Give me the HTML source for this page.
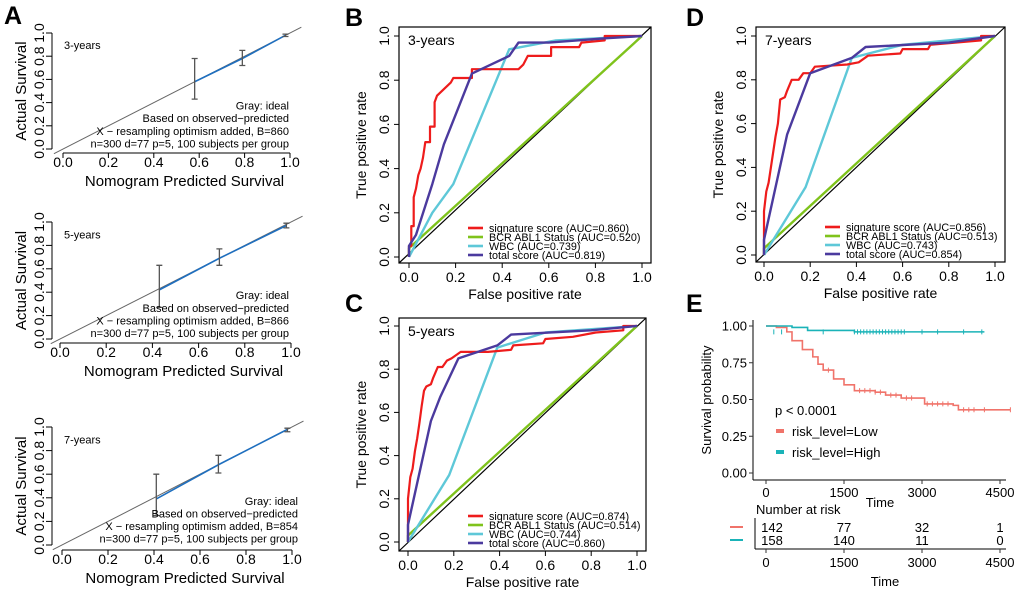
<!DOCTYPE html>
<html><head><meta charset="utf-8"><style>
body{margin:0;background:#fff}
svg{display:block;font-family:"Liberation Sans",Arial,sans-serif}
</style></head><body>
<svg id="fig" width="1020" height="593" viewBox="0 0 1020 593" xmlns="http://www.w3.org/2000/svg">
<text x="4" y="24" font-size="25" font-weight="bold">A</text>
<text x="345" y="26" font-size="25" font-weight="bold">B</text>
<text x="345" y="312" font-size="25" font-weight="bold">C</text>
<text x="686" y="26" font-size="25" font-weight="bold">D</text>
<text x="686" y="312" font-size="25" font-weight="bold">E</text>
</svg>
<script>
const NS="http://www.w3.org/2000/svg";
const svg=document.getElementById('fig');
function mk(tag,attrs,parent,text){const e=document.createElementNS(NS,tag);for(const k in attrs)e.setAttribute(k,attrs[k]);if(text!==undefined)e.textContent=text;(parent||svg).appendChild(e);return e;}

// ---------- Calibration data (panel A) ----------
const calTitles=["3-years","5-years","7-years"];
const calB=[860,866,854];
const calPred1=[0.58,0.79,0.98], calObs1=[0.58,0.78,0.98], calLo1=[0.43,0.72,0.97], calHi1=[0.78,0.85,0.99];
const calPred2=[0.43,0.69,0.98], calObs2=[0.42,0.69,0.97], calLo2=[0.27,0.63,0.95], calHi2=[0.63,0.77,0.99];
const calPred3=[0.41,0.68,0.98], calObs3=[0.39,0.68,0.98], calLo3=[0.25,0.61,0.96], calHi3=[0.60,0.76,0.99];
const calTicks=[0,0.2,0.4,0.6,0.8,1.0];

// ---------- ROC data ----------
const rocTitles=["3-years","5-years","7-years"];
const aucSig=["0.860","0.874","0.856"], aucBcr=["0.520","0.514","0.513"], aucWbc=["0.739","0.744","0.743"], aucTot=["0.819","0.860","0.854"];
const sigFprB=[0,0,0.01,0.01,0.02,0.02,0.03,0.04,0.05,0.06,0.07,0.09,0.09,0.11,0.11,0.12,0.14,0.16,0.18,0.19,0.27,0.27,0.47,0.49,0.51,0.61,0.61,0.73,0.74,0.84,0.84,1];
const sigTprB=[0,0.05,0.05,0.14,0.14,0.27,0.31,0.37,0.40,0.45,0.52,0.52,0.59,0.59,0.70,0.73,0.75,0.77,0.79,0.81,0.81,0.85,0.85,0.87,0.91,0.91,0.95,0.95,0.97,0.98,1,1];
const totFprB=[0,0,0.03,0.1,0.15,0.27,0.43,0.47,0.6,0.85,1], totTprB=[0,0.05,0.1,0.33,0.51,0.83,0.91,0.97,0.97,0.99,1];
const wbcFprB=[0,0.1,0.19,0.43,0.63,1], wbcTprB=[0,0.2,0.33,0.94,0.98,1];
const bcrFprB=[0,0,1], bcrTprB=[0,0.04,1];
const sigFprC=[0,0,0.01,0.02,0.03,0.04,0.05,0.06,0.07,0.08,0.1,0.11,0.13,0.15,0.17,0.19,0.23,0.35,0.45,0.46,0.59,0.6,0.72,0.82,0.94,0.94,1];
const sigTprC=[0,0.2,0.3,0.34,0.42,0.48,0.55,0.63,0.7,0.72,0.73,0.76,0.81,0.81,0.84,0.85,0.88,0.88,0.89,0.91,0.92,0.94,0.95,0.97,0.98,1,1];
const totFprC=[0,0,0.1,0.14,0.22,0.39,0.45,0.8,1], totTprC=[0,0.08,0.56,0.67,0.85,0.91,0.96,0.98,1];
const wbcFprC=[0,0.18,0.39,0.6,1], wbcTprC=[0,0.31,0.9,0.97,1];
const bcrFprC=[0,0,1], bcrTprC=[0,0.03,1];
const sigFprD=[0,0,0.01,0.02,0.03,0.04,0.05,0.06,0.07,0.09,0.1,0.12,0.15,0.17,0.2,0.22,0.36,0.41,0.45,0.59,0.6,0.71,0.72,0.94,0.94,1];
const sigTprD=[0,0.2,0.29,0.33,0.4,0.47,0.54,0.6,0.71,0.72,0.75,0.8,0.8,0.83,0.83,0.86,0.87,0.88,0.91,0.92,0.94,0.94,0.96,0.98,1,1];
const totFprD=[0,0,0.1,0.2,0.38,0.44,0.8,1], totTprD=[0,0.07,0.55,0.83,0.9,0.95,0.97,1];
const wbcFprD=[0,0.18,0.38,0.6,1], wbcTprD=[0,0.31,0.9,0.96,1];
const bcrFprD=[0,0,1], bcrTprD=[0,0.03,1];
const rocTicks=[0,0.2,0.4,0.6,0.8,1.0];

// ---------- KM data ----------
const kmLowT=[0,200,400,500,700,900,1000,1100,1300,1500,1700,2100,2300,2600,2900,3050,3600,3700,4700];
const kmLowS=[1,0.99,0.96,0.90,0.84,0.79,0.74,0.70,0.64,0.60,0.56,0.55,0.53,0.51,0.51,0.47,0.46,0.43,0.43];
const kmHighT=[0,300,500,800,1200,1700,4200];
const kmHighS=[1,1,0.99,0.97,0.97,0.96,0.96];
const kmTicksX=[0,1500,3000,4500];
const kmTicksY=[0,0.25,0.5,0.75,1.0];
const kmTickLabelsY=["0.00","0.25","0.50","0.75","1.00"];
const riskLow=[142,77,32,1], riskHigh=[158,140,11,0];

// ---------- Calibration panels ----------
const calPanels=[
 {y1:33,y0:149,ax:153,x0:63,x1:290,p:calPred1,o:calObs1,lo:calLo1,hi:calHi1},
 {y1:222,y0:339,ax:343,x0:60,x1:291,p:calPred2,o:calObs2,lo:calLo2,hi:calHi2},
 {y1:427,y0:545,ax:550,x0:62,x1:292,p:calPred3,o:calObs3,lo:calLo3,hi:calHi3}];
calPanels.forEach((c,i)=>{
  const g=mk('g',{});
  
  
  const sx=v=>c.x0+v*(c.x1-c.x0), sy=v=>c.y0-v*(c.y0-c.y1);
  const ideal=mk('line',{x1:sx(-0.04),y1:sy(-0.04),x2:sx(1.05),y2:sy(1.05),stroke:'#666','stroke-width':1},g);
  
  
  const pts=c.p.map((v,k)=>sx(v)+','+sy(c.o[k])).join(' ');
  const bl=mk('polyline',{points:pts,fill:'none',stroke:'#1f6fbf','stroke-width':1.6},g);
  
  
  c.p.forEach((v,k)=>{
    const eb=mk('path',{d:`M${sx(v)-3},${sy(c.lo[k])}h6M${sx(v)},${sy(c.lo[k])}V${sy(c.hi[k])}M${sx(v)-3},${sy(c.hi[k])}h6`,stroke:'#555','stroke-width':1.3,fill:'none'},g);
    
    
  });
  mk('line',{x1:52,y1:sy(0),x2:52,y2:sy(1),stroke:'#000'},g);
  calTicks.forEach(t=>{
    mk('line',{x1:46,y1:sy(t),x2:52,y2:sy(t),stroke:'#000'},g);
    const tl=mk('text',{x:44,y:sy(t),'font-size':14,'text-anchor':'middle',transform:`rotate(-90 44 ${sy(t)})`},g,t.toFixed(1));
    
    
  });
  mk('line',{x1:sx(0),y1:c.ax,x2:sx(1),y2:c.ax,stroke:'#000'},g);
  calTicks.forEach(t=>{
    mk('line',{x1:sx(t),y1:c.ax,x2:sx(t),y2:c.ax+5,stroke:'#000'},g);
    const tl=mk('text',{x:sx(t),y:c.ax+14,'font-size':14,'text-anchor':'middle'},g,t.toFixed(1));
    
    
  });
  const xt=mk('text',{x:(sx(0)+sx(1))/2+8,y:c.ax+33,'font-size':15,'text-anchor':'middle'},g,'Nomogram Predicted Survival');
  
  
  const yc=(sy(0)+sy(1))/2;
  const yt=mk('text',{x:26,y:yc,'font-size':15,'text-anchor':'middle',transform:`rotate(-90 26 ${yc})`},g,'Actual Survival');
  
  
  const tt=mk('text',{x:64,y:sy(0.86),'font-size':11},g,calTitles[i]);
  
  
  const ann=['Gray: ideal','Based on observed−predicted','X − resampling optimism added, B='+calB[i],'n=300 d=77 p=5, 100 subjects per group'];
  const rx=i==2?298:289;
  ann.forEach((s,k)=>{
    const a=mk('text',{x:rx,y:sy(0.34)+k*12.6,'font-size':11,'text-anchor':'end'},g,s);
    
    
  });
});

// ---------- ROC panels ----------
const rocPanels=[
 {L:399,R:651,T:27,B:263,x0:409,x1:642,y0:257,y1:36,sig:[sigFprB,sigTprB],tot:[totFprB,totTprB],wbc:[wbcFprB,wbcTprB],bcr:[bcrFprB,bcrTprB]},
 {L:399,R:646,T:318,B:551,x0:408,x1:637,y0:542,y1:326,sig:[sigFprC,sigTprC],tot:[totFprC,totTprC],wbc:[wbcFprC,wbcTprC],bcr:[bcrFprC,bcrTprC]},
 {L:756,R:1005,T:27,B:262,x0:764,x1:995,y0:255,y1:36,sig:[sigFprD,sigTprD],tot:[totFprD,totTprD],wbc:[wbcFprD,wbcTprD],bcr:[bcrFprD,bcrTprD]}];
const rocColors={sig:'#ee1c1c',bcr:'#7fc31c',wbc:'#5ec8d8',tot:'#4b3a9e'};
rocPanels.forEach((r,i)=>{
  const g=mk('g',{});
  
  
  const sx=v=>r.x0+v*(r.x1-r.x0), sy=v=>r.y0-v*(r.y0-r.y1);
  const diag=mk('line',{x1:r.L,y1:r.B,x2:r.R,y2:r.T,stroke:'#000','stroke-width':1.2},g);
  
  
  ['bcr','wbc','sig','tot'].forEach(key=>{
    const d=r[key];
    const pts=d[0].map((v,k)=>sx(v).toFixed(1)+','+sy(d[1][k]).toFixed(1)).join(' ');
    const pl=mk('polyline',{points:pts,fill:'none',stroke:rocColors[key],'stroke-width':key=='sig'?2.2:2.4,'stroke-linejoin':'round'},g);
    
    
  });
  const box=mk('rect',{x:r.L,y:r.T,width:r.R-r.L,height:r.B-r.T,fill:'none',stroke:'#000','stroke-width':1.2},g);
  
  
  rocTicks.forEach(t=>{
    mk('line',{x1:sx(t),y1:r.B,x2:sx(t),y2:r.B+5,stroke:'#000'},g);
    const xl=mk('text',{x:sx(t),y:r.B+19,'font-size':14,'text-anchor':'middle'},g,t.toFixed(1));
    
    
    mk('line',{x1:r.L-5,y1:sy(t),x2:r.L,y2:sy(t),stroke:'#000'},g);
    const yl=mk('text',{x:r.L-10,y:sy(t),'font-size':14,'text-anchor':'middle',transform:`rotate(-90 ${r.L-10} ${sy(t)})`},g,t.toFixed(1));
    
    
  });
  const xt=mk('text',{x:(r.L+r.R)/2,y:r.B+36,'font-size':14,'text-anchor':'middle'},g,'False positive rate');
  
  
  const yc=(r.T+r.B)/2, yx=r.L-33;
  const yt=mk('text',{x:yx,y:yc,'font-size':14,'text-anchor':'middle',transform:`rotate(-90 ${yx} ${yc})`},g,'True positive rate');
  
  
  const st=mk('text',{x:r.L+9,y:r.T+18,'font-size':14},g,rocTitles[i]);
  
  
  const leg=[['sig','signature score (AUC='+aucSig[i]+')'],['bcr','BCR ABL1 Status (AUC='+aucBcr[i]+')'],['wbc','WBC (AUC='+aucWbc[i]+')'],['tot','total score (AUC='+aucTot[i]+')']];
  leg.forEach((l,k)=>{
    const ly=r.B-35+k*9;
    const e=mk('g',{},g);
    
    
    mk('line',{x1:r.L+69,y1:ly,x2:r.L+84,y2:ly,stroke:rocColors[l[0]],'stroke-width':2.6},e);
    mk('text',{x:r.L+90,y:ly+4,'font-size':10.8},e,l[1]);
  });
});

// ---------- KM panel ----------
(function(){
  const g=mk('g',{});
  
  
  const X0=766,X1=1000,Y0=473,Y1=326;
  const sx=t=>X0+t/4500*(X1-X0), sy=s=>Y0-s*(Y0-Y1);
  function step(T,S){let d=`M${sx(T[0])},${sy(S[0])}`;for(let k=1;k<T.length;k++){d+=`H${sx(T[k])}V${sy(S[k])}`;}return d;}
  const low=mk('path',{d:step(kmLowT,kmLowS),fill:'none',stroke:'#f0736a','stroke-width':1.6},g);
  
  
  const high=mk('path',{d:step(kmHighT,kmHighS),fill:'none',stroke:'#1ab3b8','stroke-width':1.6},g);
  
  
  let cens='';
  for(let t=1700;t<=2700;t+=60){cens+=`M${sx(t)},${sy(0.96)-2.5}v5`;}
  [150,300,1100,3000,3300,3800,4150].forEach(t=>{cens+=`M${sx(t)},${sy(0.96)-2.5}v5`;});
  const ch=mk('path',{d:cens,stroke:'#1ab3b8','stroke-width':1},g);
  
  
  let cl='';
  [1200,1800,1900,2000,2100,2200,2400,2500,2700,2800,3100,3200,3300,3400,3500,3800,3900,4000,4200,4700].forEach(t=>{
    let s=kmLowS[0];for(let k=0;k<kmLowT.length;k++){if(kmLowT[k]<=t)s=kmLowS[k];}
    cl+=`M${sx(t)},${sy(s)-2.5}v5`;});
  const clp=mk('path',{d:cl,stroke:'#f0736a','stroke-width':1},g);
  
  
  mk('line',{x1:753,y1:320,x2:753,y2:480,stroke:'#000'},g);
  mk('line',{x1:753,y1:480,x2:1006,y2:480,stroke:'#000'},g);
  kmTicksY.forEach((v,k)=>{
    mk('line',{x1:749,y1:sy(v),x2:753,y2:sy(v),stroke:'#333'},g);
    const tl=mk('text',{x:747,y:sy(v)+4.5,'font-size':13,'text-anchor':'end'},g,kmTickLabelsY[k]);
    
    
  });
  kmTicksX.forEach(v=>{
    mk('line',{x1:sx(v),y1:480,x2:sx(v),y2:484,stroke:'#333'},g);
    const tl=mk('text',{x:sx(v),y:497,'font-size':13,'text-anchor':'middle'},g,String(v));
    
    
  });
  const yt=mk('text',{x:711,y:400,'font-size':13,'text-anchor':'middle',transform:'rotate(-90 711 400)'},g,'Survival probability');
  
  
  const xt=mk('text',{x:880,y:507,'font-size':13,'text-anchor':'middle'},g,'Time');
  
  
  const p=mk('text',{x:775,y:415,'font-size':13},g,'p < 0.0001');
  
  
  [['risk_level=Low','#f0736a',431],['risk_level=High','#1ab3b8',452]].forEach(l=>{
    const e=mk('g',{},g);
    
    
    mk('rect',{x:776,y:l[2]-2,width:8,height:4,fill:l[1]},e);
    mk('text',{x:792,y:l[2]+5,'font-size':13},e,l[0]);
  });
  const nr=mk('text',{x:756,y:514,'font-size':13},g,'Number at risk');
  
  
  mk('line',{x1:755,y1:518,x2:755,y2:549,stroke:'#000'},g);
  mk('line',{x1:755,y1:549,x2:1006,y2:549,stroke:'#000'},g);
  mk('line',{x1:730,y1:527,x2:743,y2:527,stroke:'#f0736a','stroke-width':2},g);
  mk('line',{x1:730,y1:540,x2:743,y2:540,stroke:'#1ab3b8','stroke-width':2},g);
  [[riskLow,531],[riskHigh,544]].forEach(row=>{
    row[0].forEach((n,k)=>{
      const t=mk('text',{x:sx(kmTicksX[k])+(k==0?6:0),y:row[1]+1,'font-size':13,'text-anchor':'middle'},g,String(n));
      
      
    });
  });
  kmTicksX.forEach(v=>{
    mk('line',{x1:sx(v),y1:549,x2:sx(v),y2:553,stroke:'#333'},g);
    const tl=mk('text',{x:sx(v),y:567,'font-size':13,'text-anchor':'middle'},g,String(v));
    
    
  });
  const xt2=mk('text',{x:885,y:586,'font-size':13,'text-anchor':'middle'},g,'Time');
  
  
})();
</script>
</body></html>
